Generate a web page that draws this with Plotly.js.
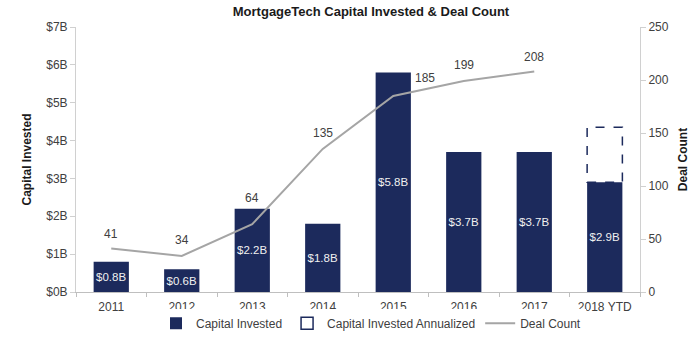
<!DOCTYPE html>
<html><head><meta charset="utf-8">
<script src="https://cdn.plot.ly/plotly-3.0.1.min.js"></script>
<style>html,body{margin:0;padding:0;background:#fff}#c{width:700px;height:338px}</style>
</head><body><div id="c"></div>
<script>
const years = ["2011","2012","2013","2014","2015","2016","2017","2018 YTD"];
const capital = [0.8, 0.6, 2.2, 1.8, 5.8, 3.7, 3.7, 2.9];
const capitalLabels = ["$0.8B","$0.6B","$2.2B","$1.8B","$5.8B","$3.7B","$3.7B","$2.9B"];
const annualizedYear = "2018 YTD";
const annualizedValue = 4.35;
const dealYears = ["2011","2012","2013","2014","2015","2016","2017"];
const dealCount = [41, 34, 64, 135, 185, 199, 208];
// label offsets (px) so the numbers sit as in the original
const dealLabelDx = [0, 0, 0, 0, 32, 0, 0];
const dealLabelDy = [15, 16, 26, 16, 18, 16, 15];

const navy = "#1c2a5c";
const barWidth = 0.5;
const idx = years.indexOf(annualizedYear);

const traces = [
  {type:"bar", x:years, y:capital, name:"Capital Invested", width:barWidth,
   marker:{color:navy}, text:capitalLabels, textposition:"inside", insidetextanchor:"middle",
   textangle:0, constraintext:"none",
   textfont:{color:"#f0f0f0", size:11.5, family:"Liberation Sans"}, hoverinfo:"none", legendrank:1},
  {type:"scatter", mode:"lines", x:dealYears, y:dealCount, yaxis:"y2", name:"Deal Count",
   line:{color:"#a5a5a5", width:2}, legendrank:3}
];

const annotations = dealYears.map((yr, i) => ({
  x: years.indexOf(yr), y: dealCount[i], xref:"x", yref:"y2", text: String(dealCount[i]),
  showarrow:false, xshift: dealLabelDx[i], yshift: dealLabelDy[i],
  font:{size:12, color:"#404040", family:"Liberation Sans"}
}));

const layout = {
  width:700, height:338,
  margin:{l:76, r:60, t:27, b:46},
  paper_bgcolor:"#fff", plot_bgcolor:"#fff",
  font:{family:"Liberation Sans", color:"#404040", size:11},
  title:{text:"<b>MortgageTech Capital Invested & Deal Count</b>", x:0.53, xanchor:"center",
         yref:"container", y:0.965, yanchor:"middle",
         font:{family:"Liberation Sans", size:13, color:"#1a1a1a"}},
  xaxis:{type:"category", categoryarray:years, categoryorder:"array", range:[-0.5, years.length-0.5],
         showline:true, linecolor:"#bfbfbf", ticks:"outside", tickson:"boundaries",
         ticklen:4, tickcolor:"#bfbfbf", showgrid:false, ticklabelstandoff:4,
         tickfont:{size:12, color:"#404040"}},
  yaxis:{range:[0,7], dtick:1, tickprefix:"$", ticksuffix:"B", showgrid:false, zeroline:false,
         showline:true, linecolor:"#d0d0d0", ticks:"outside", ticklen:5, tickcolor:"#d0d0d0",
         tickfont:{size:12, color:"#404040"},
         title:{text:"<b>Capital Invested</b>", font:{size:12, color:"#1a1a1a"}, standoff:12}},
  yaxis2:{range:[0,250], dtick:50, overlaying:"y", side:"right", showgrid:false, zeroline:false,
          showline:true, linecolor:"#d0d0d0", ticks:"outside", ticklen:5, tickcolor:"#d0d0d0",
          tickfont:{size:12, color:"#404040"},
          title:{text:"<b>Deal Count</b>", font:{size:12, color:"#1a1a1a"}, standoff:10}},
  showlegend:true,
  legend:{orientation:"h", xref:"container", x:0.53, xanchor:"center", yref:"container", y:0.044, yanchor:"middle",
          font:{size:12, color:"#404040"}, traceorder:"normal", itemwidth:30},
  annotations: annotations,
  shapes:[{type:"rect", xref:"x", yref:"y", x0:idx - barWidth/2, x1:idx + barWidth/2,
           y0:capital[idx], y1:annualizedValue, line:{color:navy, width:1.5, dash:"dash"},
           fillcolor:"rgba(0,0,0,0)", showlegend:true, name:"Capital Invested Annualized", legendrank:2}],
  bargap:0.5
};
Plotly.newPlot("c", traces, layout, {displayModeBar:false, staticPlot:true});
</script></body></html>
